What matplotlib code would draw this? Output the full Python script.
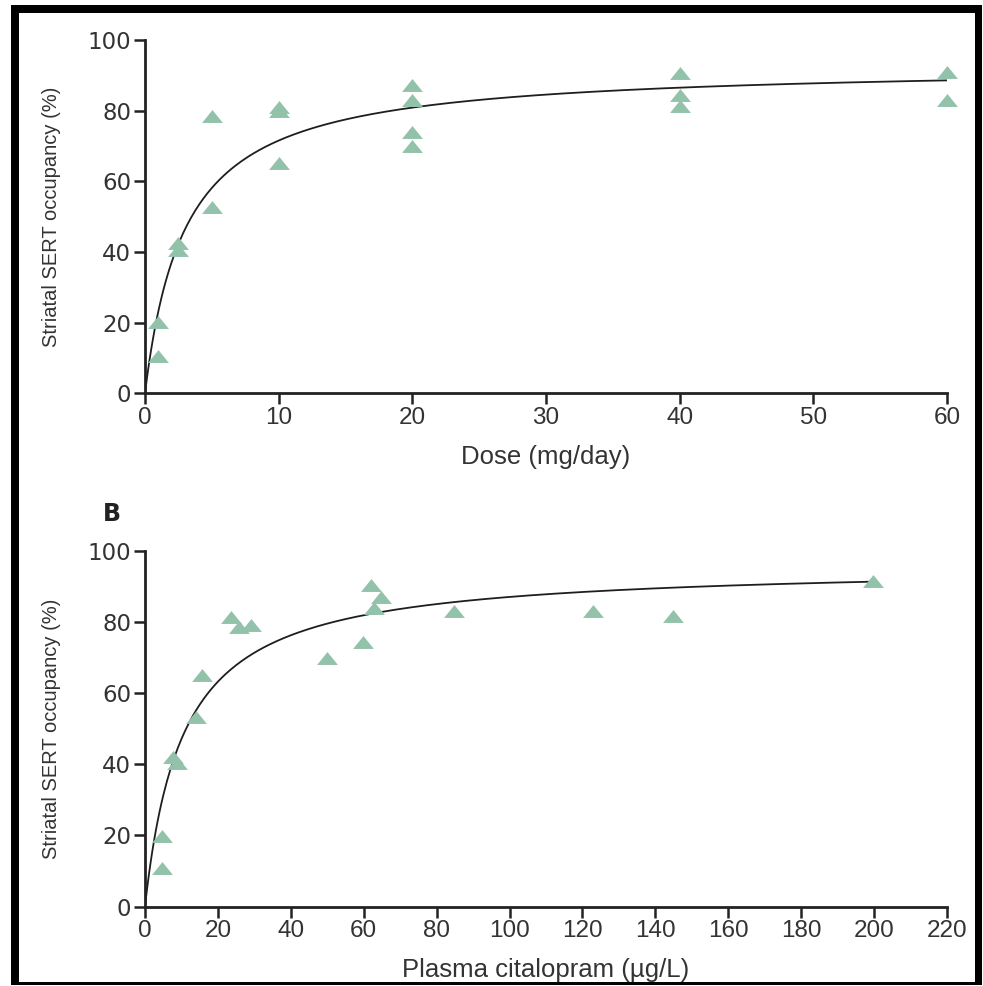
import matplotlib
matplotlib.use("Agg")
import matplotlib.pyplot as plt
import numpy as np
from matplotlib.patches import Rectangle

# Panel A: occupancy vs dose
dose = [1, 1, 2.5, 2.5, 5, 5, 10, 10, 10, 20, 20, 20, 20, 40, 40, 40, 60, 60]
occ_dose = [20.3, 10.6, 42.6, 40.6, 78.6, 52.8, 81.1, 80.0, 65.3,
            87.3, 83.0, 74.1, 69.9, 90.7, 84.4, 81.3, 91.0, 83.0]

# Panel B: occupancy vs plasma concentration
plasma = [4.7, 4.7, 7.6, 8.8, 13.9, 15.7, 23.7, 25.8, 29.2,
          49.9, 59.8, 62.0, 62.8, 64.7, 84.9, 122.9, 144.9, 199.7]
occ_plasma = [10.7, 19.8, 42.1, 40.4, 53.1, 65.0, 81.2, 78.4, 79.0,
              69.9, 74.4, 90.4, 83.9, 87.0, 83.1, 83.1, 81.7, 91.3]

# fitted Emax model parameters
emax_dose, ed50 = 93.0, 3.0
emax_plasma, ec50 = 96.0, 10.4

W, H = 983, 986
fig = plt.figure(figsize=(W / 100, H / 100), dpi=100)

green = "#93c2ab"
txt = "#333333"
narrow = ["Liberation Sans Narrow", "Liberation Sans", "DejaVu Sans"]

# wide, flat triangle marker
tri = [(-1, -0.62), (1, -0.62), (0, 0.62), (-1, -0.62)]


def px_box(x0, y0, x1, y1):
    # pixel box (top-left origin) -> figure fraction rect
    return (x0 / W, 1 - y1 / H, (x1 - x0) / W, (y1 - y0) / H)


def style(ax, xmax, xstep):
    ax.set_ylim(0, 100)
    ax.set_xlim(0, xmax)
    ax.set_yticks(range(0, 101, 20))
    ax.set_xticks(np.arange(0, xmax + 1, xstep))
    for s in ["top", "right"]:
        ax.spines[s].set_visible(False)
    for s in ["left", "bottom"]:
        ax.spines[s].set_linewidth(2.0)
        ax.spines[s].set_color("#222222")
    ax.tick_params(direction="out", length=8, width=1.8, color="#222222",
                   labelcolor=txt)
    ax.tick_params(axis="y", labelsize=16.5, pad=2)
    ax.tick_params(axis="x", labelsize=17.5, pad=2)
    for lab in ax.get_xticklabels():
        lab.set_family(narrow)
    ax.set_ylabel("Striatal SERT occupancy (%)", fontsize=14.5, family=narrow,
                  color=txt)
    ax.yaxis.set_label_coords(-0.105, 0.5)


l, b, w, h = px_box(145, 40, 947, 393.3)
ax1 = fig.add_axes([l, b, w, h])
xx = np.linspace(0, 60, 400)
ax1.plot(xx, emax_dose * xx / (xx + ed50), color="#1e1e1e", lw=1.3, zorder=2)
ax1.plot(dose, occ_dose, linestyle="none", marker=tri, markersize=15,
         color=green, markeredgewidth=0, clip_on=False, zorder=3)
style(ax1, 60, 10)
ax1.set_xlabel("Dose (mg/day)", fontsize=18.5, family=narrow, color=txt)
ax1.xaxis.set_label_coords(0.5, -0.145)

l, b, w, h = px_box(145, 550.5, 947, 906.5)
ax2 = fig.add_axes([l, b, w, h])
xx = np.linspace(0, 200, 400)
ax2.plot(xx, emax_plasma * xx / (xx + ec50), color="#1e1e1e", lw=1.3, zorder=2)
ax2.plot(plasma, occ_plasma, linestyle="none", marker=tri, markersize=15,
         color=green, markeredgewidth=0, clip_on=False, zorder=3)
style(ax2, 220, 20)
ax2.set_xlabel("Plasma citalopram (µg/L)", fontsize=18.5, family=narrow,
               color=txt)
ax2.xaxis.set_label_coords(0.5, -0.145)

fig.text(103 / W, 1 - 514 / H, "B", fontsize=17, fontweight="bold",
         color="#222222", ha="left", va="center")

# black frame around the figure
for box in [(11, 5, 19, 985), (11, 5, 982, 13), (975, 5, 982, 985),
            (11, 982, 982, 985)]:
    x, y, bw, bh = px_box(*box)
    fig.add_artist(Rectangle((x, y), bw, bh, transform=fig.transFigure,
                             facecolor="black", edgecolor="none"))

fig.savefig("out.png", dpi=100)
